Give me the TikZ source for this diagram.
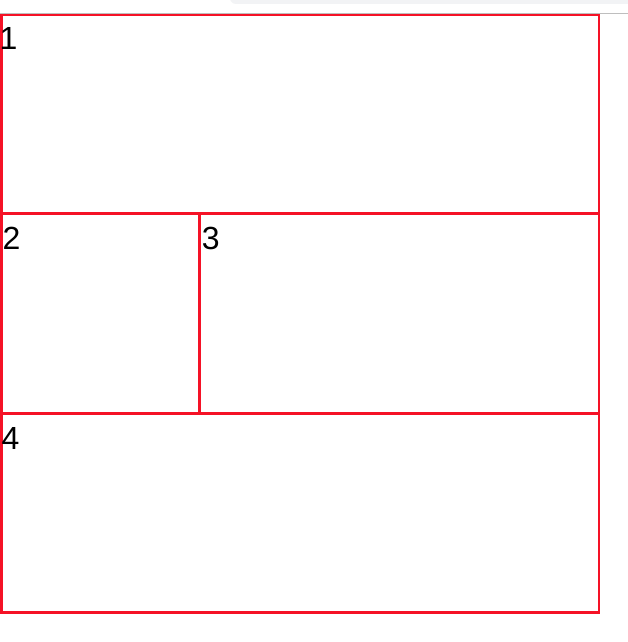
\documentclass[tikz,border=0pt]{standalone}
\usepackage{fontspec}
\setmainfont{Liberation Sans}
\definecolor{boxred}{RGB}{245,18,38}
\definecolor{topgray}{RGB}{242,243,245}
\definecolor{linegray}{RGB}{190,190,190}
\begin{document}
\begin{tikzpicture}[x=1pt,y=-1pt,
  cell/.style={draw=boxred,line width=2.4pt},
  num/.style={anchor=base west,inner sep=0pt,font=\fontsize{32}{36}\selectfont}]
\useasboundingbox (0,0) rectangle (628,642);
\fill[white] (0,0) rectangle (628,642);
\begin{scope}
\clip (0,0) rectangle (628,642);
\fill[topgray,rounded corners=6pt] (230,-12) rectangle (640,4);
\end{scope}
\draw[linegray,line width=1pt] (0,13.3) -- (628,13.3);
% boxes
\draw[cell] (1.5,15) rectangle (599,212.8);
\draw[cell] (1.5,214.2) rectangle (198.8,412.8);
\draw[cell] (200.2,214.2) rectangle (599,412.8);
\draw[cell] (1.5,414.2) rectangle (599,612.3);
% labels
\node[num] (n1) at (-0.7,50) {1};
\node[num] (n2) at (2.3,249.5) {2};
\node[num] (n3) at (201.6,249.3) {3};
\node[num] (n4) at (1.5,449.5) {4};
\end{tikzpicture}
\end{document}
